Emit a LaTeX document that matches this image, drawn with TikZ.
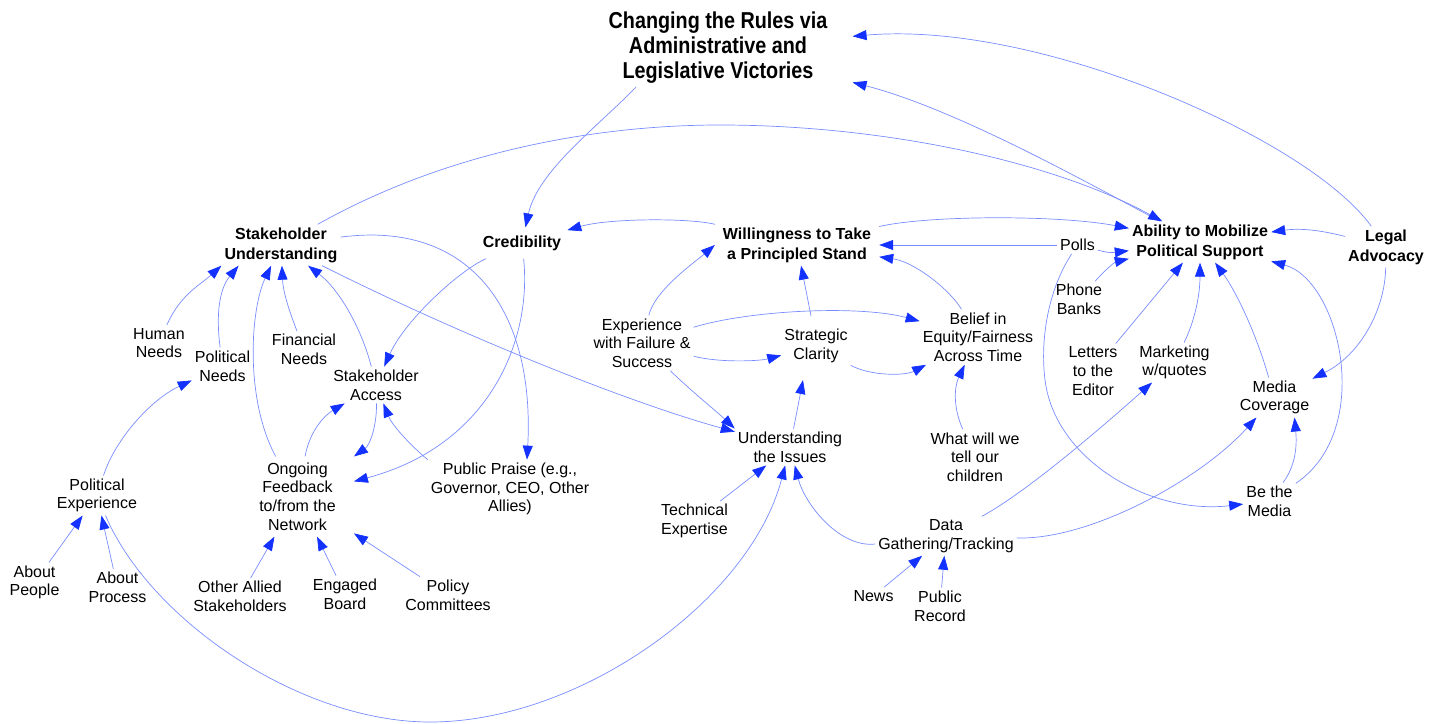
\documentclass[tikz,border=0pt]{standalone}
\usepackage{fontspec}
\setmainfont{Liberation Sans}
\newfontfamily\titlefont[FakeStretch=0.86]{Liberation Sans}
\usetikzlibrary{arrows.meta}
\definecolor{lineblue}{RGB}{120,140,255}
\definecolor{tipblue}{RGB}{20,50,255}
\begin{document}
\begin{tikzpicture}[x=1pt,y=-1pt,
  lbl/.style={align=center,font=\fontsize{16}{18.7}\selectfont,inner sep=3pt},
  key/.style={align=center,font=\fontsize{16}{20}\selectfont\bfseries,inner sep=3pt},
  ttl/.style={align=center,font={\titlefont\bfseries\fontsize{23}{25}\selectfont},inner xsep=25pt,inner ysep=3pt},
  conn/.style={draw=lineblue,line width=0.7pt,-{Triangle[length=14pt,width=10pt,color=tipblue]}}]
\useasboundingbox (0,0) rectangle (1437,723);

% nodes
\node[ttl] (title) at (718,48) {Changing the Rules via\\Administrative and\\Legislative Victories};
\node[key] (su) at (281,245) {Stakeholder\\Understanding};
\node[key,inner xsep=6pt,inner ysep=8pt] (cred) at (522,243) {Credibility};
\node[key,inner xsep=8pt] (will) at (797,245) {Willingness to Take\\a Principled Stand};
\node[key] (abil) at (1200,242) {Ability to Mobilize\\Political Support};
\node[key] (legal) at (1386,247) {Legal\\Advocacy};
\node[lbl] (polls) at (1077.5,245) {Polls};
\node[lbl] (hn) at (159,343) {Human\\Needs};
\node[lbl] (pn) at (222.5,366) {Political\\Needs};
\node[lbl] (fn) at (304,349.5) {Financial\\Needs};
\node[lbl] (sa) at (376,385) {Stakeholder\\Access};
\node[lbl,inner xsep=18pt,inner ysep=6pt] (of) at (297.5,496.5) {Ongoing\\Feedback\\to/from the\\Network};
\node[lbl] (pp) at (510,489) {Public Praise (e.g.,\\Governor, CEO, Other\\Allies)};
\node[lbl] (pe) at (97,495.5) {Political\\Experience};
\node[lbl] (ap) at (34.5,582.5) {About\\People};
\node[lbl] (apr) at (117.5,587.5) {About\\Process};
\node[lbl] (oas) at (240,596.5) {Other Allied\\Stakeholders};
\node[lbl] (eb) at (345,594) {Engaged\\Board};
\node[lbl] (pc) at (448,595) {Policy\\Committees};
\node[lbl] (efs) at (642,343) {Experience\\with Failure \&\\Success};
\node[lbl] (sc) at (816,346) {Strategic\\Clarity};
\node[lbl] (bel) at (978,337) {Belief in\\Equity/Fairness\\Across Time};
\node[lbl] (ui) at (790,447) {Understanding\\the Issues};
\node[lbl] (wt) at (975,457) {What will we\\tell our\\children};
\node[lbl] (te) at (694.5,521) {Technical\\Expertise};
\node[lbl] (dg) at (946,536) {Data\\Gathering/Tracking};
\node[lbl] (news) at (873.5,596) {News};
\node[lbl] (pr) at (940,606) {Public\\Record};
\node[lbl] (pb) at (1079,299.5) {Phone\\Banks};
\node[lbl] (lte) at (1093,371) {Letters\\to the\\Editor};
\node[lbl] (mw) at (1174.5,362.5) {Marketing\\w/quotes};
\node[lbl] (mc) at (1274.5,397.5) {Media\\Coverage};
\node[lbl] (btm) at (1269.5,501) {Be the\\Media};

% top connectors
\draw[conn] ([xshift=-82pt]title.south) .. controls (600,125) and (538,170) .. (cred);
\draw[conn] (abil) .. controls (1100,190) and (960,110) .. (title);
\draw[conn] (legal) .. controls (1310,140) and (1040,20) .. (title);
\draw[conn] (su) .. controls (450,150) and (600,125) .. (720,125) .. controls (880,125) and (1050,160) .. (abil);

% middle / right
\draw[conn] (will) .. controls (690,218) and (610,218) .. (cred);
\draw[conn] (will) .. controls (930,215) and (1060,215) .. (abil);
\draw[conn] (polls) -- (will);
\draw[conn] (polls) .. controls (1105,252) and (1110,253) .. (abil);
\draw[conn] (pb) .. controls (1105,270) and (1115,262) .. (abil);
\draw[conn] (lte) -- (abil);
\draw[conn] (mw) .. controls (1195,320) and (1200,295) .. (abil);
\draw[conn] (mc) .. controls (1255,330) and (1235,290) .. (abil);
\draw[conn] (btm) .. controls (1375,430) and (1340,280) .. (abil);
\draw[conn] (legal) .. controls (1320,230) and (1300,228) .. (abil);
\draw[conn] (legal) .. controls (1385,310) and (1360,355) .. (mc);
\draw[conn] (btm) .. controls (1296,465) and (1297,445) .. ([xshift=20pt]mc.south);
\draw[conn] (polls) .. controls (1048,290) and (1040,340) .. (1045,380) .. controls (1055,460) and (1150,515) .. (btm);
\draw[conn] (dg) .. controls (1030,490) and (1110,420) .. (mw);
\draw[conn] (dg) .. controls (1090,540) and (1200,480) .. (mc);
\draw[conn] (dg) .. controls (840,548) and (805,505) .. (ui);
\draw[conn] (news) -- (dg);
\draw[conn] (pr) -- (dg);
\draw[conn] (te) -- (ui);
\draw[conn] (pe) .. controls (150,620) and (300,722) .. (430,722) .. controls (580,722) and (750,600) .. (ui);
\draw[conn] (su) .. controls (450,330) and (620,400) .. (ui);
\draw[conn] (efs) .. controls (690,390) and (715,410) .. (ui.north west);
\draw[conn] (efs) .. controls (655,290) and (695,262) .. (will.west);
\draw[conn] (efs) .. controls (750,310) and (860,305) .. (bel);
\draw[conn] (efs) .. controls (720,363) and (760,361) .. (sc);
\draw[conn] ([xshift=-5pt,yshift=10pt]sc.north) -- (will);
\draw[conn] (sc) .. controls (870,376) and (905,376) .. (bel);
\draw[conn] (ui) -- ([xshift=-13pt,yshift=-14pt]sc.south);
\draw[conn] (wt) .. controls (952,405) and (955,385) .. (bel);
\draw[conn] (bel) .. controls (950,290) and (915,262) .. (will);

% left cluster
\draw[conn] (hn) .. controls (180,295) and (200,285) .. (su.south west);
\draw[conn] (pn) .. controls (214,300) and (225,282) .. (su.-154);
\draw[conn] (of) .. controls (245,400) and (250,310) .. (su);
\draw[conn] (fn) .. controls (287,305) and (283,290) .. (su);
\draw[conn] (sa) .. controls (362,330) and (340,290) .. (su);
\draw[conn] (pe) .. controls (115,440) and (150,400) .. (pn);
\draw[conn] (of) .. controls (310,430) and (325,415) .. (sa);
\draw[conn] (sa) .. controls (377,425) and (370,445) .. (of);
\draw[conn] (pp.north west) .. controls (410,445) and (392,425) .. (sa);
\draw[conn] (cred) .. controls (532,340) and (490,445) .. (of);
\draw[conn] (cred) .. controls (460,270) and (405,320) .. (sa);
\draw[conn] (su) .. controls (470,220) and (535,310) .. ([xshift=17pt]pp.north);
\draw[conn] (oas) -- (of);
\draw[conn] (eb) -- (of);
\draw[conn] (pc) -- (of);
\draw[conn] (ap) -- (pe);
\draw[conn] (apr) -- (pe);
\end{tikzpicture}
\end{document}
